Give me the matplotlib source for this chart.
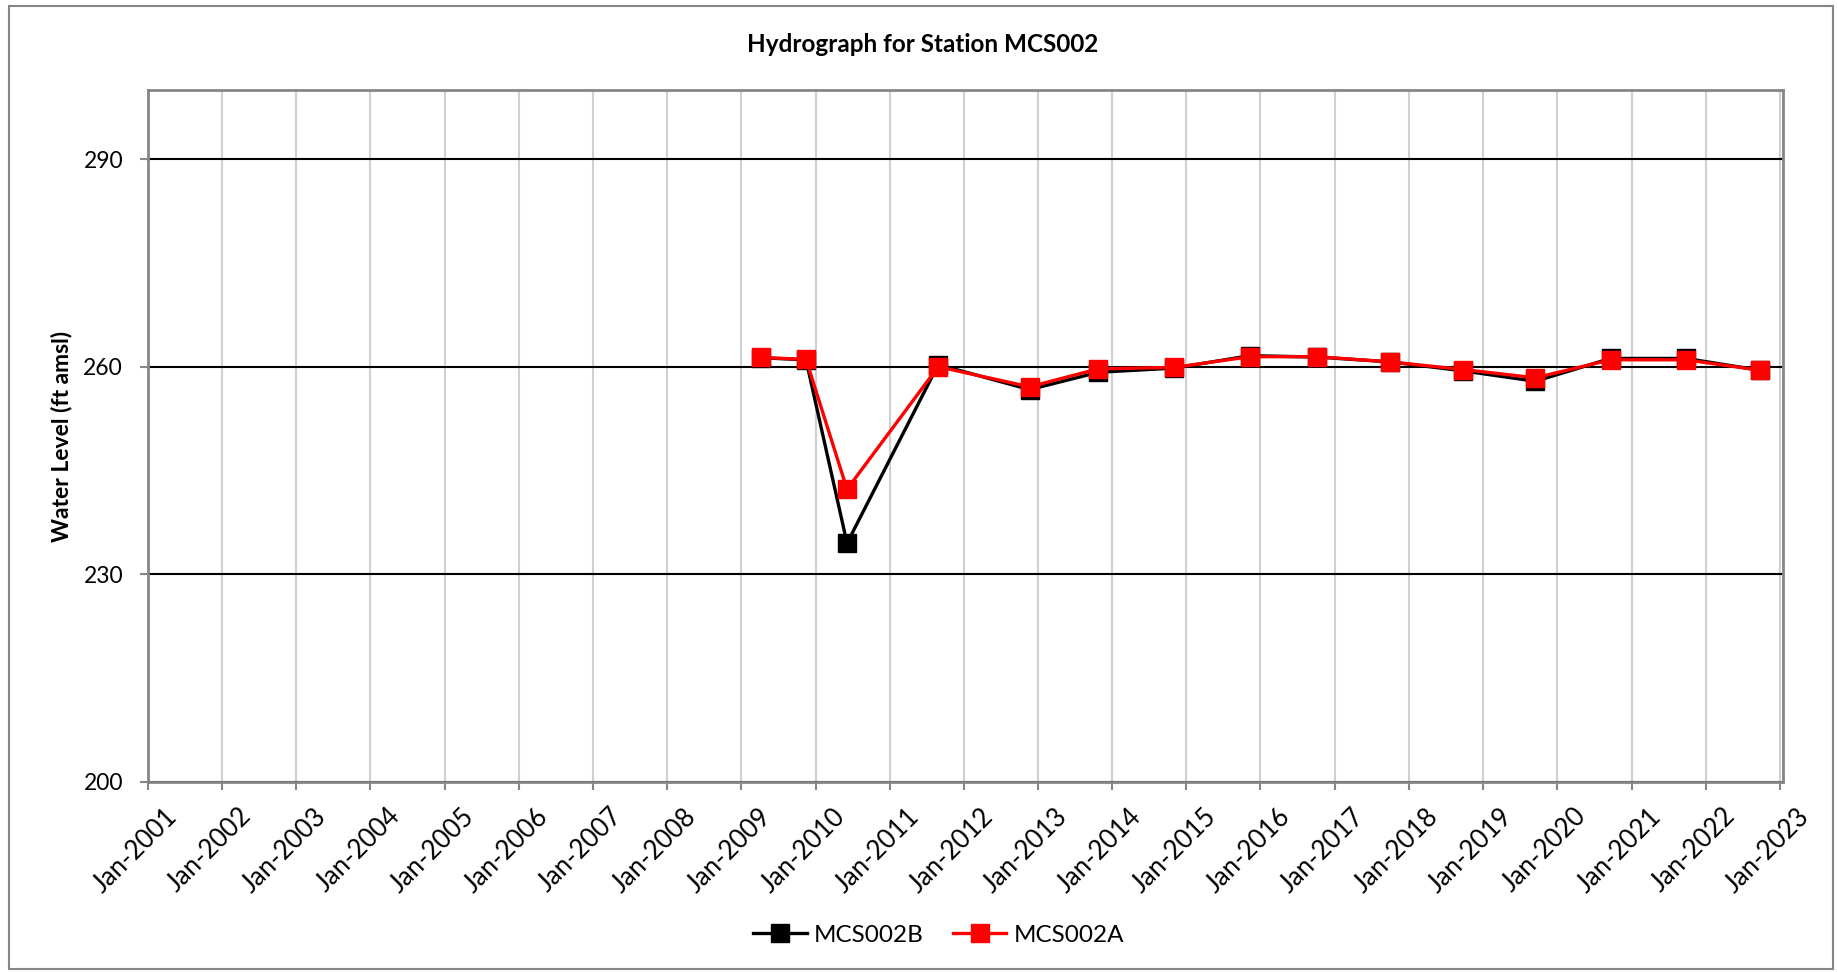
import numpy as np
import pandas as pd
import matplotlib
matplotlib.use("Agg")
import matplotlib.pyplot as plt
import matplotlib.dates as mdates
import matplotlib.transforms as mtransforms
from matplotlib.patches import Rectangle

plt.rcParams['font.family'] = ['Lato', 'DejaVu Sans']

# sampling dates
dates = pd.to_datetime(['2009-04-05', '2009-11-15', '2010-06-05', '2011-08-28',
                        '2012-11-20', '2013-10-25', '2014-11-01', '2015-11-10',
                        '2016-10-05', '2017-10-01', '2018-09-25', '2019-09-15',
                        '2020-09-20', '2021-09-25', '2022-09-25'])
mcs002b = [261.3, 261.0, 234.5, 260.3, 256.7, 259.2, 259.8, 261.6,
           261.4, 260.7, 259.4, 257.9, 261.2, 261.2, 259.5]
mcs002a = [261.35, 261.05, 242.3, 260.0, 257.1, 259.7, 259.9, 261.45,
           261.45, 260.7, 259.6, 258.4, 261.0, 261.0, 259.5]

fig = plt.figure(figsize=(18.37, 9.72), dpi=100)
ax = fig.add_axes([0.0806, 0.1955, 0.89, 0.712])

ax.plot(dates, mcs002b, '-s', color='black', lw=2.4, ms=12.5, label='MCS002B', zorder=3)
ax.plot(dates, mcs002a, '-s', color='#ff0000', lw=2.4, ms=12.5, label='MCS002A', zorder=4)

ax.set_ylim(200, 300)
ax.set_yticks([200, 230, 260, 290])
ax.set_xlim(pd.Timestamp('2001-01-01'), pd.Timestamp('2023-01-17'))
years = pd.date_range('2001-01-01', '2023-01-01', freq='YS')
ax.set_xticks(years)
ax.xaxis.set_major_formatter(mdates.DateFormatter('%b-%Y'))

ax.grid(axis='x', color='#d0d0d0', lw=1.5)
ax.grid(axis='y', color='black', lw=1.5)
ax.set_axisbelow(True)
for s in ax.spines.values():
    s.set_color('#868686')
    s.set_linewidth(2)

ax.tick_params(axis='both', colors='#868686', length=6, width=1.5, labelcolor='black')
ax.tick_params(axis='y', pad=12, labelsize=16.5)
ax.tick_params(axis='x', labelsize=18.5)
offset = mtransforms.ScaledTranslation(12 / 72, -6 / 72, fig.dpi_scale_trans)
for lbl in ax.get_xticklabels():
    lbl.set_rotation(45)
    lbl.set_ha('right')
    lbl.set_va('top')
    lbl.set_rotation_mode('anchor')
    lbl.set_transform(lbl.get_transform() + offset)

ax.set_ylabel('Water Level (ft amsl)', fontsize=16.5, fontweight='bold', labelpad=8)
fig.text(0.502, 0.954, 'Hydrograph for Station MCS002', ha='center', va='center',
         fontsize=17.5, fontweight='bold')

ax.legend(loc='center', bbox_to_anchor=(0.511, 0.038), bbox_transform=fig.transFigure,
          ncol=2, frameon=False, fontsize=17.5, handlelength=2.2, columnspacing=1.2,
          handletextpad=0.3)

fig.patches.append(Rectangle((0.005, 0.003), 0.993, 0.991, transform=fig.transFigure,
                             fill=False, edgecolor='#868686', lw=1.5))

fig.savefig('out.png', dpi=100)
